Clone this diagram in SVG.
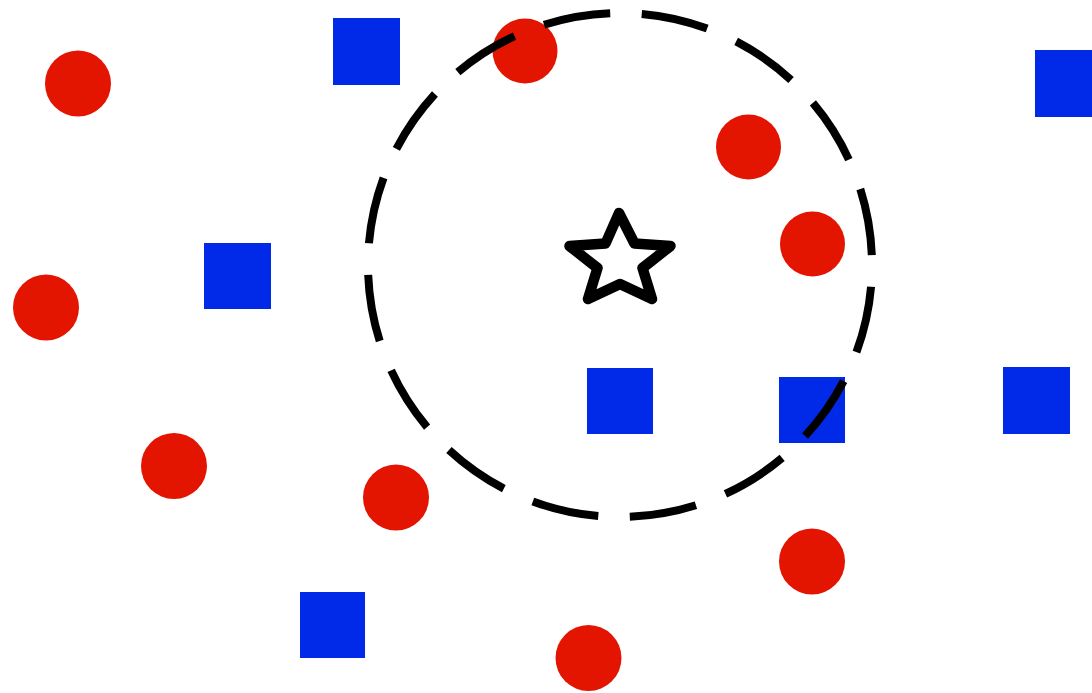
<svg xmlns="http://www.w3.org/2000/svg" width="1092" height="693" viewBox="0 0 1092 693">
  <style>
    .red { fill: #e31400; }
    .blue { fill: #0029e8; }
    .ring { fill: none; stroke: #000; stroke-width: 8; stroke-dasharray: 68 32; stroke-dashoffset: 78; }
    .star { fill: #fff; stroke: #000; stroke-width: 10.5; stroke-linejoin: round; }
  </style>
  <rect width="1092" height="693" fill="#fff"/>
  <g id="red-points">
    <circle class="red" cx="78" cy="83.5" r="33"/>
    <circle class="red" cx="525" cy="51" r="32.5"/>
    <circle class="red" cx="748.5" cy="147" r="32.5"/>
    <circle class="red" cx="812.5" cy="244" r="32.5"/>
    <circle class="red" cx="46" cy="307.5" r="33"/>
    <circle class="red" cx="174" cy="466" r="33"/>
    <circle class="red" cx="396" cy="497.5" r="33"/>
    <circle class="red" cx="812" cy="561.5" r="33"/>
    <circle class="red" cx="588.5" cy="658" r="33"/>
  </g>
  <g id="blue-points">
    <rect class="blue" x="333" y="18" width="67" height="67"/>
    <rect class="blue" x="1035" y="50" width="67" height="67"/>
    <rect class="blue" x="204" y="243" width="67" height="66"/>
    <rect class="blue" x="587" y="368" width="66" height="66"/>
    <rect class="blue" x="779" y="377" width="66" height="66"/>
    <rect class="blue" x="1003" y="367" width="67" height="67"/>
    <rect class="blue" x="300" y="592" width="65" height="66"/>
  </g>
  <g id="neighbourhood">
    <circle class="ring" cx="620" cy="265" r="252" pathLength="1600"/>
  </g>
  <g id="query-star">
    <polygon class="star" points="619,213 634.5,243.5 670.5,246 642.5,268 652,299 620,284 588,299 597.5,268 569.5,246 605.5,243.5"/>
  </g>
</svg>
